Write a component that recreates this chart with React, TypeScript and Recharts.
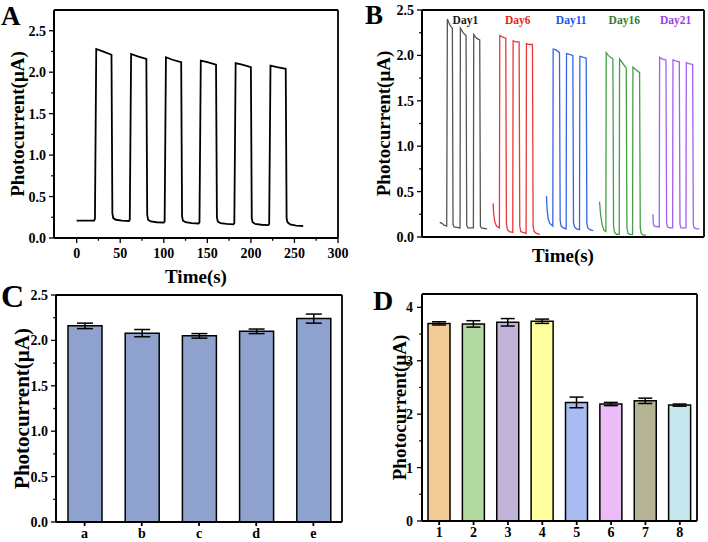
import React from 'react'
import { LineChart, Line, BarChart, Bar, Cell, ErrorBar, XAxis, YAxis, CartesianGrid, ReferenceDot } from 'recharts'

const FONT = '"Liberation Serif", "Times New Roman", serif'

// A: i-t curve, six light on/off cycles
const cycleA = [
  { t: 0, i: 0.21 }, { t: 20, i: 0.21 }, { t: 21, i: 0.23 }, { t: 22.5, i: 2.28 }, { t: 30, i: 2.25 }, { t: 40, i: 2.21 },
  { t: 41, i: 0.3 }, { t: 42, i: 0.24 }, { t: 45, i: 0.22 }, { t: 52, i: 0.21 }, { t: 60, i: 0.205 },
  { t: 61, i: 0.22 }, { t: 62.5, i: 2.22 }, { t: 70, i: 2.19 }, { t: 80, i: 2.16 },
  { t: 81, i: 0.28 }, { t: 82, i: 0.22 }, { t: 85, i: 0.2 }, { t: 92, i: 0.19 }, { t: 100, i: 0.185 },
  { t: 101, i: 0.2 }, { t: 102.5, i: 2.18 }, { t: 110, i: 2.15 }, { t: 120, i: 2.12 },
  { t: 121, i: 0.26 }, { t: 122, i: 0.21 }, { t: 125, i: 0.19 }, { t: 132, i: 0.18 }, { t: 140, i: 0.175 },
  { t: 141, i: 0.19 }, { t: 142.5, i: 2.14 }, { t: 150, i: 2.12 }, { t: 160, i: 2.09 },
  { t: 161, i: 0.25 }, { t: 162, i: 0.2 }, { t: 165, i: 0.18 }, { t: 172, i: 0.17 }, { t: 180, i: 0.165 },
  { t: 181, i: 0.18 }, { t: 182.5, i: 2.11 }, { t: 190, i: 2.09 }, { t: 200, i: 2.06 },
  { t: 201, i: 0.24 }, { t: 202, i: 0.19 }, { t: 205, i: 0.17 }, { t: 212, i: 0.16 }, { t: 220, i: 0.155 },
  { t: 221, i: 0.17 }, { t: 222.5, i: 2.08 }, { t: 230, i: 2.06 }, { t: 240, i: 2.04 },
  { t: 241, i: 0.24 }, { t: 242, i: 0.19 }, { t: 245, i: 0.165 }, { t: 252, i: 0.15 }, { t: 260, i: 0.145 },
]

// B: stability over days (time axis has no scale, arbitrary units)
const day1 = [
  { t: 53, i: 0.16 }, { t: 60, i: 0.15 }, { t: 66, i: 0.13 }, { t: 74, i: 0.12 }, { t: 76, i: 2.4 }, { t: 84, i: 2.33 }, { t: 91, i: 2.3 },
  { t: 93, i: 0.14 }, { t: 96, i: 0.11 }, { t: 114, i: 0.1 }, { t: 115, i: 2.3 }, { t: 123, i: 2.25 }, { t: 132, i: 2.22 },
  { t: 134, i: 0.13 }, { t: 137, i: 0.1 }, { t: 154, i: 0.1 }, { t: 155, i: 2.23 }, { t: 163, i: 2.19 }, { t: 173, i: 2.17 },
  { t: 175, i: 0.12 }, { t: 178, i: 0.1 }, { t: 195, i: 0.09 },
]
const day6 = [
  { t: 213, i: 0.37 }, { t: 215, i: 0.25 }, { t: 218, i: 0.17 }, { t: 223, i: 0.12 }, { t: 232, i: 0.1 }, { t: 233, i: 2.22 }, { t: 242, i: 2.2 }, { t: 251, i: 2.19 },
  { t: 253, i: 0.15 }, { t: 256, i: 0.08 }, { t: 262, i: 0.06 }, { t: 272, i: 0.05 }, { t: 273, i: 2.16 }, { t: 282, i: 2.15 }, { t: 291, i: 2.15 },
  { t: 293, i: 0.12 }, { t: 296, i: 0.06 }, { t: 302, i: 0.05 }, { t: 312, i: 0.04 }, { t: 313, i: 2.13 }, { t: 322, i: 2.12 }, { t: 331, i: 2.12 },
  { t: 333, i: 0.12 }, { t: 336, i: 0.06 }, { t: 343, i: 0.04 }, { t: 353, i: 0.03 },
]
const day11 = [
  { t: 373, i: 0.45 }, { t: 375, i: 0.3 }, { t: 378, i: 0.2 }, { t: 383, i: 0.15 }, { t: 392, i: 0.12 }, { t: 393, i: 2.07 }, { t: 402, i: 2.06 }, { t: 412, i: 2.03 },
  { t: 414, i: 0.18 }, { t: 417, i: 0.12 }, { t: 423, i: 0.1 }, { t: 432, i: 0.09 }, { t: 433, i: 2.02 }, { t: 442, i: 2.01 }, { t: 452, i: 2.0 },
  { t: 454, i: 0.16 }, { t: 457, i: 0.11 }, { t: 463, i: 0.09 }, { t: 472, i: 0.08 }, { t: 473, i: 1.99 }, { t: 482, i: 1.98 }, { t: 492, i: 1.97 },
  { t: 494, i: 0.15 }, { t: 497, i: 0.1 }, { t: 503, i: 0.08 }, { t: 513, i: 0.07 },
]
const day16 = [
  { t: 532, i: 0.39 }, { t: 535, i: 0.25 }, { t: 540, i: 0.13 }, { t: 546, i: 0.07 }, { t: 551, i: 0.06 }, { t: 552, i: 2.03 }, { t: 558, i: 2.0 }, { t: 572, i: 1.96 },
  { t: 574, i: 0.12 }, { t: 577, i: 0.05 }, { t: 583, i: 0.03 }, { t: 591, i: 0.03 }, { t: 592, i: 1.96 }, { t: 598, i: 1.93 }, { t: 612, i: 1.86 },
  { t: 614, i: 0.1 }, { t: 617, i: 0.04 }, { t: 623, i: 0.03 }, { t: 631, i: 0.03 }, { t: 632, i: 1.87 }, { t: 638, i: 1.85 }, { t: 652, i: 1.81 },
  { t: 654, i: 0.1 }, { t: 657, i: 0.04 }, { t: 663, i: 0.02 }, { t: 672, i: 0.02 },
]
const day21 = [
  { t: 692, i: 0.25 }, { t: 693, i: 0.15 }, { t: 696, i: 0.12 }, { t: 711, i: 0.11 }, { t: 712, i: 1.98 }, { t: 720, i: 1.96 }, { t: 731, i: 1.95 },
  { t: 733, i: 0.15 }, { t: 736, i: 0.11 }, { t: 743, i: 0.1 }, { t: 751, i: 0.1 }, { t: 752, i: 1.95 }, { t: 760, i: 1.94 }, { t: 771, i: 1.93 },
  { t: 773, i: 0.14 }, { t: 776, i: 0.1 }, { t: 783, i: 0.1 }, { t: 791, i: 0.1 }, { t: 792, i: 1.92 }, { t: 800, i: 1.91 }, { t: 811, i: 1.9 },
  { t: 813, i: 0.13 }, { t: 816, i: 0.1 }, { t: 823, i: 0.09 }, { t: 831, i: 0.09 },
]
const daySeries = [day1, day6, day11, day16, day21]
const dayNames = ['Day1', 'Day6', 'Day11', 'Day16', 'Day21']
const dayLabelT = [130, 287, 447, 606, 760]
const dayLine = ['#555555', '#e8383a', '#3366e6', '#45a045', '#a35ef0']
const dayText = ['#1a1a1a', '#e82424', '#2255e6', '#2e7d2e', '#9b40e6']

// C: reproducibility
const repLabels = ['a', 'b', 'c', 'd', 'e']
const repMean = [2.16, 2.08, 2.05, 2.1, 2.24]
const repErr = [0.03, 0.04, 0.025, 0.025, 0.05]

// D: selectivity
const selLabels = ['1', '2', '3', '4', '5', '6', '7', '8']
const selMean = [3.7, 3.69, 3.72, 3.74, 2.22, 2.19, 2.25, 2.17]
const selErr = [0.03, 0.06, 0.07, 0.04, 0.1, 0.03, 0.05, 0.02]
const selColors = ['#f2cc94', '#b2daa0', '#c2b4d8', '#ffff9e', '#a8bcf2', '#ecbcf6', '#b4b494', '#c4e6ec']

const repData = repLabels.map((k, n) => ({ k, v: repMean[n], e: repErr[n] }))
const selData = selLabels.map((k, n) => ({ k, v: selMean[n], e: selErr[n] }))

const frameH = ({ offset }: any) => [offset.top, offset.top + offset.height]
const frameV = ({ offset }: any) => [offset.left, offset.left + offset.width]

const textStyle = { fontFamily: FONT, fontWeight: 'bold', fill: '#000' }

function leftTick(majors: number[], fmt: (v: number) => string, size: number, margin: number, fs: number) {
  return (p: any) => {
    const v = p.payload.value
    const ax = p.x + size + margin
    const major = majors.includes(v)
    return (
      <g>
        <line x1={ax} x2={ax - (major ? size : size * 0.55)} y1={p.y} y2={p.y} stroke="#000" strokeWidth={1.3} />
        {major && (
          <text x={p.x} y={p.y} dy="0.36em" textAnchor="end" fontSize={fs} {...textStyle}>{fmt(v)}</text>
        )}
      </g>
    )
  }
}

function bottomTick(majors: number[], size: number, margin: number, fs: number) {
  return (p: any) => {
    const v = p.payload.value
    const ay = p.y - size - margin
    const major = majors.includes(v)
    return (
      <g>
        <line x1={p.x} x2={p.x} y1={ay} y2={ay + (major ? size : size * 0.55)} stroke="#000" strokeWidth={1.3} />
        {major && (
          <text x={p.x} y={p.y} dy="0.71em" textAnchor="middle" fontSize={fs} {...textStyle}>{v}</text>
        )}
      </g>
    )
  }
}

const yLabel = (offset: number, fs: number) => ({
  value: 'Photocurrent(μA)',
  angle: -90,
  position: 'insideLeft' as const,
  offset,
  style: { textAnchor: 'middle', fontSize: fs, fontFamily: FONT, fontWeight: 'bold', fill: '#000' },
})

const xLabel = (offset: number) => ({
  value: 'Time(s)',
  position: 'insideBottom' as const,
  offset,
  style: { textAnchor: 'middle', fontSize: 19, fontFamily: FONT, fontWeight: 'bold', fill: '#000' },
})

const one = (v: number) => v.toFixed(1)

export default function App() {
  return (
    <div style={{ position: 'absolute', left: 0, top: 0, width: 708, height: 542, background: '#fff', fontFamily: FONT }}>
      <div style={{ position: 'absolute', left: 0, top: 0 }}>
        <LineChart width={354} height={300} margin={{ top: 10, right: 16, bottom: 12, left: 0 }}>
          <CartesianGrid stroke="#000" strokeWidth={1.8} horizontalCoordinatesGenerator={frameH} verticalCoordinatesGenerator={frameV} />
          <XAxis
            type="number" dataKey="t" domain={[-26, 300]} allowDataOverflow height={50}
            ticks={[0, 25, 50, 75, 100, 125, 150, 175, 200, 225, 250, 275, 300]} interval={0}
            tickSize={5} tickMargin={5} tickLine={false} stroke="#000" strokeWidth={1.8}
            tick={bottomTick([0, 50, 100, 150, 200, 250, 300], 5, 5, 14)}
            label={xLabel(5)}
          />
          <YAxis
            type="number" domain={[0, 2.75]} allowDataOverflow width={54}
            ticks={[0, 0.25, 0.5, 0.75, 1, 1.25, 1.5, 1.75, 2, 2.25, 2.5]} interval={0}
            tickSize={5} tickMargin={3} tickLine={false} stroke="#000" strokeWidth={1.8}
            tick={leftTick([0, 0.5, 1, 1.5, 2, 2.5], one, 5, 3, 14)}
            label={yLabel(17, 19)}
          />
          <Line data={cycleA} dataKey="i" type="linear" stroke="#000" strokeWidth={1.8} dot={false} isAnimationActive={false} />
        </LineChart>
      </div>

      <div style={{ position: 'absolute', left: 354, top: 0 }}>
        <LineChart width={354} height={270} margin={{ top: 10, right: 4, bottom: 3, left: 0 }}>
          <CartesianGrid stroke="#000" strokeWidth={1.8} horizontalCoordinatesGenerator={frameH} verticalCoordinatesGenerator={frameV} />
          <XAxis
            type="number" dataKey="t" domain={[0, 845]} allowDataOverflow height={30}
            tick={false} tickLine={false} stroke="#000" strokeWidth={1.8}
            label={xLabel(5)}
          />
          <YAxis
            type="number" domain={[0, 2.5]} allowDataOverflow width={68}
            ticks={[0, 0.25, 0.5, 0.75, 1, 1.25, 1.5, 1.75, 2, 2.25, 2.5]} interval={0}
            tickSize={5} tickMargin={3} tickLine={false} stroke="#000" strokeWidth={1.8}
            tick={leftTick([0, 0.5, 1, 1.5, 2, 2.5], one, 5, 3, 14)}
            label={yLabel(29, 19)}
          />
          {daySeries.map((d, n) => (
            <Line key={dayNames[n]} data={d} dataKey="i" type="linear" stroke={dayLine[n]} strokeWidth={1.3} dot={false} isAnimationActive={false} />
          ))}
          {dayNames.map((name, n) => (
            <ReferenceDot
              key={name} x={dayLabelT[n]} y={2.39} r={1}
              shape={(p: any) => (
                <text x={p.cx} y={p.cy} dy="0.36em" textAnchor="middle" fontSize={11.5} fontFamily={FONT} fontWeight="bold" fill={dayText[n]}>{name}</text>
              )}
            />
          ))}
        </LineChart>
      </div>

      <div style={{ position: 'absolute', left: 0, top: 280 }}>
        <BarChart width={354} height={262} data={repData} margin={{ top: 15, right: 12, bottom: 0, left: 0 }}>
          <CartesianGrid stroke="#000" strokeWidth={1.8} horizontalCoordinatesGenerator={frameH} verticalCoordinatesGenerator={frameV} />
          <XAxis
            dataKey="k" height={20} interval={0} tickSize={4} tickMargin={2} stroke="#000" strokeWidth={1.8}
            tick={{ fontSize: 14, ...textStyle }}
          />
          <YAxis
            type="number" domain={[0, 2.5]} allowDataOverflow width={56}
            ticks={[0, 0.25, 0.5, 0.75, 1, 1.25, 1.5, 1.75, 2, 2.25, 2.5]} interval={0}
            tickSize={5} tickMargin={3} tickLine={false} stroke="#000" strokeWidth={1.8}
            tick={leftTick([0, 0.5, 1, 1.5, 2, 2.5], one, 5, 3, 14)}
            label={yLabel(22, 21)}
          />
          <Bar dataKey="v" barSize={34} fill="#8fa2cd" stroke="#000" strokeWidth={1.5} isAnimationActive={false}>
            <ErrorBar dataKey="e" width={8} stroke="#000" strokeWidth={1.5} direction="y" />
          </Bar>
        </BarChart>
      </div>

      <div style={{ position: 'absolute', left: 354, top: 280 }}>
        <BarChart width={354} height={262} data={selData} margin={{ top: 14, right: 11, bottom: 0, left: 0 }}>
          <CartesianGrid stroke="#000" strokeWidth={1.8} horizontalCoordinatesGenerator={frameH} verticalCoordinatesGenerator={frameV} />
          <XAxis
            dataKey="k" height={21} interval={0} tickSize={4} tickMargin={2} stroke="#000" strokeWidth={1.8}
            tick={{ fontSize: 14, ...textStyle }}
          />
          <YAxis
            type="number" domain={[0, 4.25]} allowDataOverflow width={68}
            ticks={[0, 0.5, 1, 1.5, 2, 2.5, 3, 3.5, 4]} interval={0}
            tickSize={5} tickMargin={4} tickLine={false} stroke="#000" strokeWidth={1.8}
            tick={leftTick([0, 1, 2, 3, 4], (v) => String(v), 5, 4, 14)}
            label={yLabel(45, 19)}
          />
          <Bar dataKey="v" barSize={22} stroke="#000" strokeWidth={1.5} isAnimationActive={false}>
            {selData.map((d, n) => (
              <Cell key={d.k} fill={selColors[n]} />
            ))}
            <ErrorBar dataKey="e" width={7} stroke="#000" strokeWidth={1.5} direction="y" />
          </Bar>
        </BarChart>
      </div>

      <svg width={708} height={542} style={{ position: 'absolute', left: 0, top: 0, pointerEvents: 'none' }}>
        <text x={1} y={25} fontSize={27} {...textStyle}>A</text>
        <text x={365} y={24} fontSize={27} {...textStyle}>B</text>
        <text x={1} y={307} fontSize={32} {...textStyle}>C</text>
        <text x={373} y={310} fontSize={28} {...textStyle}>D</text>
      </svg>
    </div>
  )
}
